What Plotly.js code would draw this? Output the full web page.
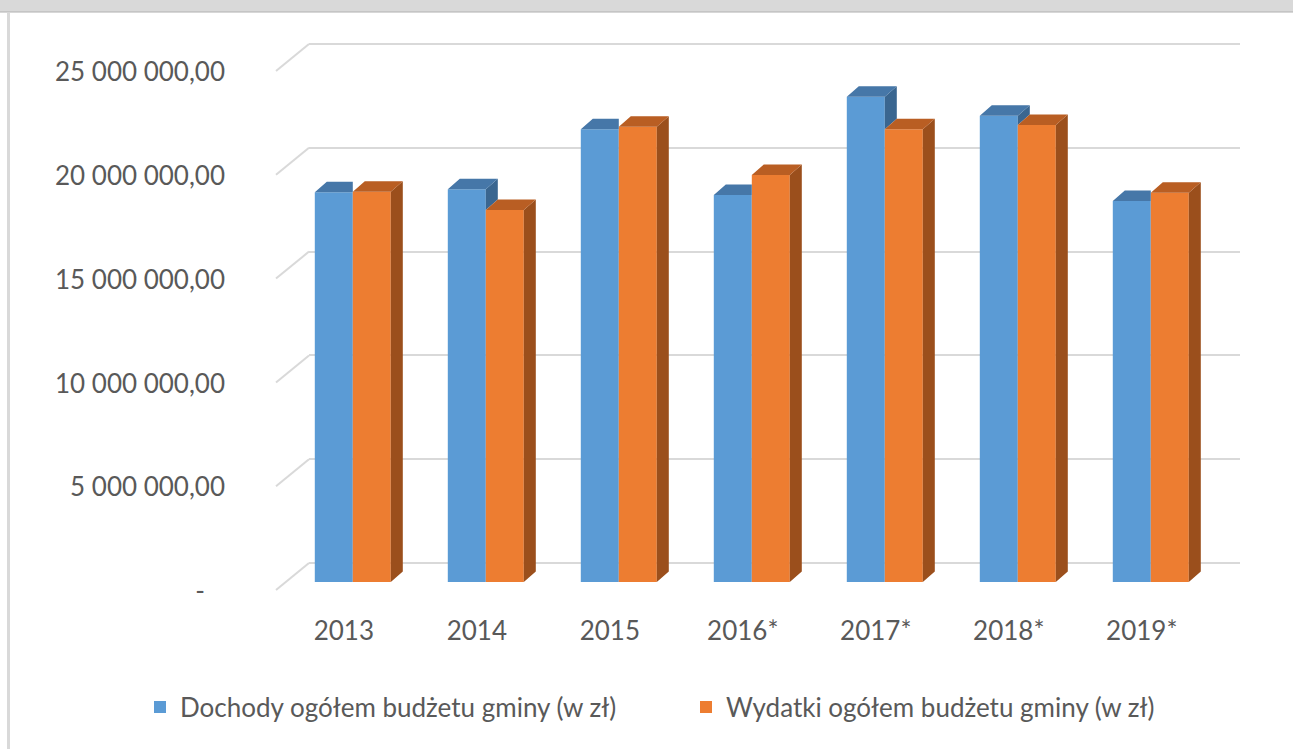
<!DOCTYPE html>
<html>
<head>
<meta charset="utf-8">
<script src="https://cdn.plot.ly/plotly-3.0.1.min.js"></script>
<style>html,body{margin:0;padding:0;background:#fff;}</style>
</head>
<body>
<div id="chart" style="width:1293px;height:749px;"></div>
<script>
// data (zł)
var years = ['2013', '2014', '2015', '2016*', '2017*', '2018*', '2019*'];
var dochody = [18780000, 18920000, 21810000, 18640000, 23380000, 22460000, 18350000];
var wydatki = [18800000, 17920000, 21930000, 19610000, 21810000, 22010000, 18750000];
var gridVals = [0, 5000000, 10000000, 15000000, 20000000, 25000000];
var names = ['Dochody ogółem budżetu gminy (w zł)', 'Wydatki ogółem budżetu gminy (w zł)'];

var W = 1293, H = 749;
var FONT = 'Lato, sans-serif';
var FS = 26;
var TXT = '#595959';
function fx(px) { return px / W; }
function fy(px) { return 1 - px / H; }

// pixel positions of 0 on back wall and on the bar plane
var back0 = 563, back25 = 44;
var bar0 = 582;
var kpx = (back0 - back25) / 25e6;   // px per zł
function dom(p0, r) {
  return [fy(p0 - r[0] * kpx), fy(p0 - r[1] * kpx)];
}

// category spacing on the bar plane
var slot = 133, firstC = 352.8;
var bw = 38 / slot;          // one bar width in category units
var dx = 12 / slot;          // depth offset (x)
var dy = 10.5 / kpx;         // depth offset (y)

function fmt(v) {
  if (v === 0) return '-\u00a0\u00a0\u00a0';
  var s = Math.round(v).toString().replace(/\B(?=(\d{3})+(?!\d))/g, ' ');
  return s + ',00';
}

// 3D faces as filled polygons
function poly(pts) {
  var x = [], y = [];
  pts.forEach(function (p) { x.push(p[0]); y.push(p[1]); });
  x.push(null); y.push(null);
  return [x, y];
}
function faceTrace(color) {
  return {x: [], y: [], type: 'scatter', mode: 'none', fill: 'toself',
    fillcolor: color, xaxis: 'x2', yaxis: 'y2', showlegend: false, hoverinfo: 'skip'};
}
var bSide = faceTrace('#3a6690'), bTop = faceTrace('#4677a8');
var oSide = faceTrace('#9b4f1c'), oTop = faceTrace('#b95e23');
function add(t, pts) { var p = poly(pts); t.x = t.x.concat(p[0]); t.y = t.y.concat(p[1]); }

years.forEach(function (c, i) {
  var vb = dochody[i], vo = wydatki[i];
  var b0 = i - bw, b1 = i, o1 = i + bw;
  // blue side: only the part above the orange bar is visible
  var lo = Math.min(vb, vo);
  add(bSide, [[b1, lo], [b1, vb], [b1 + dx, vb + dy], [b1 + dx, lo + dy]]);
  // blue top: right part hidden when orange is taller
  if (vo > vb) add(bTop, [[b0, vb], [b1, vb], [b1, vb + dy], [b0 + dx, vb + dy]]);
  else add(bTop, [[b0, vb], [b1, vb], [b1 + dx, vb + dy], [b0 + dx, vb + dy]]);
  add(oSide, [[o1, 0], [o1, vo], [o1 + dx, vo + dy], [o1 + dx, dy]]);
  add(oTop, [[b1, vo], [o1, vo], [o1 + dx, vo + dy], [b1 + dx, vo + dy]]);
});

var idx = years.map(function (c, i) { return i; });
var data = [
  // empty trace so the back-wall subplot gets drawn
  {x: [], y: [], type: 'scatter', mode: 'none', xaxis: 'x', yaxis: 'y', showlegend: false, hoverinfo: 'skip'},
  {x: idx, y: dochody, type: 'bar', name: names[0], xaxis: 'x2', yaxis: 'y2',
    width: bw, offset: -bw, marker: {color: '#5b9bd5', line: {width: 0}}, hoverinfo: 'y'},
  {x: idx, y: wydatki, type: 'bar', name: names[1], xaxis: 'x2', yaxis: 'y2',
    width: bw, offset: 0, marker: {color: '#ed7d31', line: {width: 0}}, hoverinfo: 'y'},
  bSide, bTop, oSide, oTop
];

var shapes = [
  {type: 'rect', xref: 'paper', yref: 'paper', x0: 0, x1: 1, y0: fy(12), y1: 1,
    fillcolor: '#d9d9d9', line: {width: 0}, layer: 'below'},
  {type: 'line', xref: 'paper', yref: 'paper', x0: 0, x1: 1, y0: fy(12), y1: fy(12),
    line: {color: '#b0b0b0', width: 1}, layer: 'below'},
  {type: 'line', xref: 'paper', yref: 'paper', x0: fx(8.5), x1: fx(8.5), y0: fy(13), y1: 0,
    line: {color: '#d9d9d9', width: 3}, layer: 'below'}
];
// slanted lines joining the wall gridlines to the front edge
gridVals.forEach(function (v) {
  var pb = back0 - v * kpx;
  shapes.push({type: 'line', xref: 'paper', yref: 'paper',
    x0: fx(309), y0: fy(pb), x1: fx(276), y1: fy(pb + 27),
    line: {color: '#d9d9d9', width: 2}, layer: 'below'});
});

var backRange = [-0.5e6, 25.5e6];
var barRange = [0, 25e6];
var layout = {
  width: W, height: H,
  margin: {l: 0, r: 0, t: 0, b: 0},
  paper_bgcolor: '#ffffff', plot_bgcolor: 'rgba(0,0,0,0)',
  font: {family: FONT, color: TXT, size: FS},
  barmode: 'overlay',
  showlegend: true,
  // back wall gridlines
  xaxis: {domain: [fx(309), fx(1240)], range: [0, 1], anchor: 'y',
    showticklabels: false, showgrid: false, zeroline: false, showline: false, ticks: ''},
  yaxis: {domain: dom(back0, backRange), range: backRange, anchor: 'x', tickvals: gridVals,
    showticklabels: false, showgrid: true, gridcolor: '#d9d9d9', gridwidth: 2,
    zeroline: false, showline: false, ticks: ''},
  // bar plane
  xaxis2: {domain: [fx(276), fx(1240)], anchor: 'y2',
    range: [(276 - firstC) / slot, (1240 - firstC) / slot],
    tickvals: idx, ticktext: years, ticks: '', showgrid: false, zeroline: false, showline: false,
    ticklabelshift: -9, ticklabelstandoff: 31, tickfont: {size: FS, color: TXT}},
  yaxis2: {domain: dom(bar0, barRange), range: barRange, anchor: 'x2',
    tickvals: gridVals, ticktext: gridVals.map(fmt), ticks: '',
    showgrid: false, zeroline: false, showline: false,
    ticklabelshift: 9, ticklabelstandoff: 50, tickfont: {size: FS, color: TXT}},
  shapes: shapes,
  legend: {orientation: 'h', x: fx(140), xanchor: 'left', y: fy(707), yanchor: 'middle',
    font: {size: FS, color: TXT}, entrywidth: 501, traceorder: 'normal', bgcolor: 'rgba(0,0,0,0)'}
};

Plotly.newPlot('chart', data, layout, {displayModeBar: false, staticPlot: true});
</script>
</body>
</html>
